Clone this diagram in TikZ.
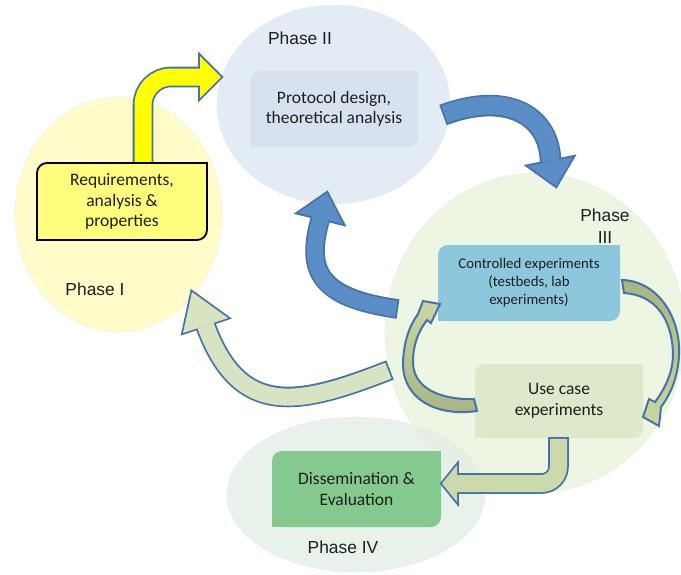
\documentclass[tikz,border=0pt]{standalone}
\usepackage{fontspec}
\setmainfont{Liberation Sans}
\newfontfamily\boxfont{Carlito}
\usetikzlibrary{shapes.geometric,calc}
\definecolor{bordc}{HTML}{4672AA}
\definecolor{ph1c}{HTML}{FFFCC9}
\definecolor{ph2c}{HTML}{E3ECF5}
\definecolor{ph3c}{HTML}{EDF5E3}
\definecolor{ph4c}{HTML}{E4EEE6}
\definecolor{reqc}{HTML}{FFFC7E}
\definecolor{protoc}{HTML}{D7E2EF}
\definecolor{ctrlc}{HTML}{8DC7DB}
\definecolor{usec}{HTML}{DEE9CC}
\definecolor{dissc}{HTML}{84CA8F}
\definecolor{bluec}{HTML}{5B8EC7}
\definecolor{yelc}{HTML}{FFFF00}
\definecolor{lgreen}{HTML}{D8E3C2}
\definecolor{lgreenb}{HTML}{CCDAAB}
\definecolor{olivea}{HTML}{CAD7A5}
\definecolor{oliveb}{HTML}{A7B582}
\definecolor{txtc}{HTML}{1E1E1E}
\tikzset{
 phase/.style={ellipse, inner sep=0pt, draw=black!10, line width=0.6pt, dash pattern=on 2pt off 2pt},
 box/.style={rectangle, rounded corners=10pt, inner sep=0pt, outer sep=0pt, align=center, text=txtc, font=\boxfont\fontsize{17.5}{20.5}\selectfont},
 plabel/.style={font=\fontsize{17.4}{22}\selectfont, text=txtc, align=center, inner sep=0pt},
 loopar/.style={draw=bordc, line width=2pt, line join=miter},
}
\newcommand\blockarrow[5]{%
  \draw[bordc, line width=#3] #4;
  \filldraw[bordc, line width=3.6pt, line join=miter] #5;
  \draw[#1, line width=#2, shorten <=1.8pt] #4;
  \fill[#1] #5;
}
\newcommand\sharpen[2]{%
  \fill[#2] (#1.south west) rectangle ([xshift=12pt,yshift=12pt]#1.south west);
  \fill[#2] (#1.north east) rectangle ([xshift=-12pt,yshift=-12pt]#1.north east);
}
\begin{document}
\begin{tikzpicture}[x=1pt,y=-1pt]
\useasboundingbox (0,0) rectangle (681,574);
\clip (0,0) rectangle (681,574);
% phase ellipses
\node[phase, fill=ph3c, minimum width=300pt, minimum height=320pt] (ph3) at (535,333) {};
\node[phase, fill=ph4c, fill opacity=0.8, minimum width=258pt, minimum height=155pt] (ph4) at (356,494.5) {};
\node[phase, fill=ph2c, minimum width=233pt, minimum height=199pt] (ph2) at (333.5,104.5) {};
\node[phase, fill=ph1c, minimum width=207pt, minimum height=235pt] (ph1) at (118.5,214.5) {};
% phase labels
\node[plabel] (l1) at (95,289) {Phase I};
\node[plabel] (l2) at (300,38) {Phase II};
\node[plabel] (l3) at (605,226) {Phase\\III};
\node[plabel] (l4) at (343,547) {Phase IV};
% yellow arrow (behind the requirements box)
\coordinate (ys) at (143,166);
\coordinate (ye) at (200,77);
\blockarrow{yelc}{17pt}{20.6pt}{(ys) [rounded corners=28pt] |- (ye)}{($(ye)+(0,-21)$) -- ($(ye)+(21,0)$) -- ($(ye)+(0,21)$) -- cycle}
% boxes
\node[box, fill=reqc, draw=black, line width=1.8pt, minimum width=170pt, minimum height=77pt] (req) at (122,201.5) {Requirements,\\analysis \&\\properties};
\sharpen{req}{reqc}
\draw[black, line width=1.8pt] ([yshift=12pt]req.south west) -- (req.south west) -- ([xshift=12pt]req.south west);
\draw[black, line width=1.8pt] ([yshift=-12pt]req.north east) -- (req.north east) -- ([xshift=-12pt]req.north east);
\node[box, fill=protoc, minimum width=168pt, minimum height=76pt] (proto) at (334,109) {Protocol design,\\theoretical analysis};
\sharpen{proto}{protoc}
\node[box, fill=ctrlc, minimum width=182pt, minimum height=76pt, font=\boxfont\fontsize{14.8}{18}\selectfont] (ctrl) at (529,283) {Controlled experiments\\(testbeds, lab\\experiments)};
\sharpen{ctrl}{ctrlc}
\node[box, fill=usec, minimum width=168pt, minimum height=74pt] (use) at (559,401) {Use case\\experiments};
\sharpen{use}{usec}
\node[box, fill=dissc, minimum width=169pt, minimum height=76pt] (diss) at (356.5,489) {Dissemination \&\\Evaluation};
\sharpen{diss}{dissc}
% blue arrow Phase II -> Phase III
\coordinate (b2s) at (443,115);
\coordinate (b2e) at (550.5,161.5);
\blockarrow{bluec}{18pt}{21.6pt}{(b2s) .. controls (510,90) and (550,118) .. (b2e)}{($(b2e)+(-22.5,4.5)$) -- ($(b2e)+(5.5,24.5)$) -- ($(b2e)+(22.5,-4.5)$) -- cycle}
% blue arrow Phase III -> Phase II
\coordinate (b3s) at (398,309);
\coordinate (b3e) at (320.5,218.5);
\blockarrow{bluec}{16pt}{19.6pt}{(b3s) .. controls (320,298) and (305,272) .. (b3e)}{($(b3e)+(-22.5,-5.5)$) -- ($(b3e)+(6.5,-25.5)$) -- ($(b3e)+(22.5,5.5)$) -- cycle}
% light green arrow Phase III -> Phase I
\coordinate (g4s) at (390,370);
\coordinate (g4e) at (205.5,325.5);
\blockarrow{lgreen}{17pt}{20.6pt}{(g4s) .. controls (300,405) and (240,420) .. (g4e)}{($(g4e)+(-22.5,7.5)$) -- ($(g4e)+(-13.5,-33.5)$) -- ($(g4e)+(22.5,-7.5)$) -- cycle}
% light green arrow Use case -> Dissemination
\coordinate (g7s) at (558.5,437);
\coordinate (g7e) at (457,483.5);
\blockarrow{lgreenb}{17pt}{20.6pt}{(g7s) [rounded corners=17pt] |- (g7e)}{($(g7e)+(0,-18.5)$) -- ($(g7e)+(-15,0)$) -- ($(g7e)+(0,18.5)$) -- cycle}
% loop arrow Use case -> Controlled (left)
\draw[loopar, top color=olivea, bottom color=oliveb] (474,399) -- (477,411) .. controls (435,417) and (402,398) .. (403,362) .. controls (404,340) and (410,325) .. (418,314) -- (423,301) -- (440,304) -- (431,323) -- (427,320) .. controls (418,332) and (413,345) .. (413,362) .. controls (413,388) and (440,400) .. (474,399) -- cycle;
% loop arrow Controlled -> Use case (right)
\draw[loopar, top color=oliveb, bottom color=olivea] (622,280) .. controls (658,281) and (681,318) .. (679,355) .. controls (678,378) and (670,395) .. (661,407) -- (659,426) -- (643,417) -- (649,399) -- (655,402) .. controls (667,386) and (673,370) .. (673,354) .. controls (672,318) and (655,295) .. (624,293) -- cycle;
\end{tikzpicture}
\end{document}
